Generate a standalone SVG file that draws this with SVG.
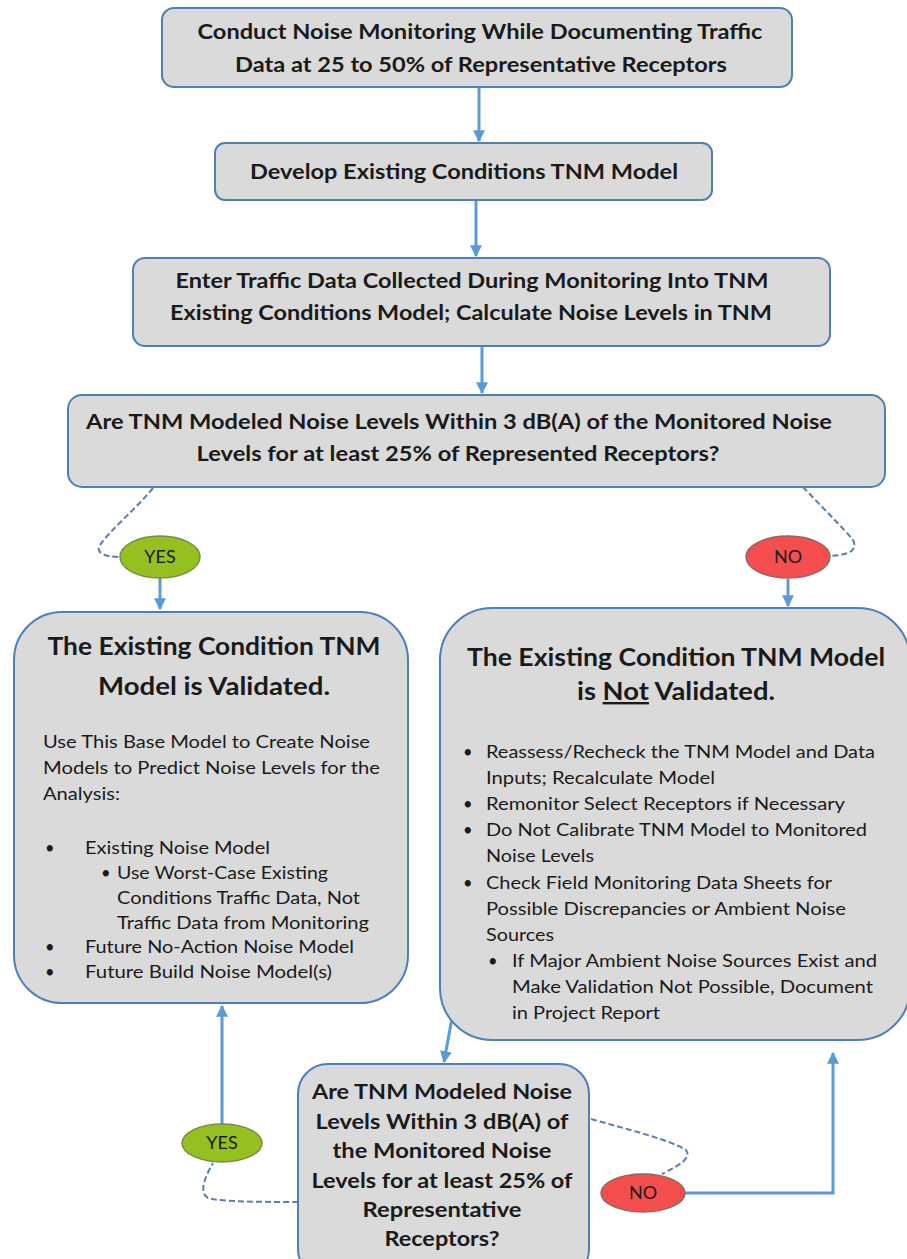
<svg xmlns="http://www.w3.org/2000/svg" width="907" height="1259" viewBox="0 0 907 1259">
<style>
.box{fill:#dadada;stroke:#4f7fb8;stroke-width:2}
.t{font-family:Lato,"Open Sans","Liberation Sans",sans-serif;fill:#1a1a1a}
.h{font-size:20px;font-weight:bold;text-anchor:middle}
.big{font-size:24px;font-weight:bold;text-anchor:middle}
.q{font-size:21px;font-weight:bold;text-anchor:middle}
.body{font-size:16.5px}
.arr{stroke:#5b9bd5;stroke-width:3;fill:none}
.dash{stroke:#5a80aa;stroke-width:2;fill:none;stroke-dasharray:6 3}
.yes{fill:#94c11f;stroke:#7a8a50;stroke-width:1.5}
.no{fill:#f44e4e;stroke:#8a6a60;stroke-width:1.5}
.lbl{font-family:Lato,"Open Sans","Liberation Sans",sans-serif;font-size:18px;text-anchor:middle;fill:#1a1a1a}
</style>
<defs>
<marker id="ah" viewBox="0 0 10 10" refX="9" refY="5" markerWidth="4" markerHeight="4" orient="auto" markerUnits="strokeWidth">
<path d="M0,0 L10,5 L0,10 z" fill="#5b9bd5"/>
</marker>
</defs>
<rect width="907" height="1259" fill="#ffffff"/>

<g id="connectors">
<line class="arr" x1="479" y1="88" x2="479" y2="141" marker-end="url(#ah)"/>
<line class="arr" x1="476" y1="201" x2="476" y2="256" marker-end="url(#ah)"/>
<line class="arr" x1="482" y1="346" x2="482" y2="393" marker-end="url(#ah)"/>
<path class="dash" d="M153,488 C135,510 110,530 100,545 C95,553 105,557 120,557"/>
<line class="arr" x1="160" y1="578" x2="160" y2="609" marker-end="url(#ah)"/>
<path class="dash" d="M803,487 C820,505 845,530 853,540 C858,550 850,555 830,556"/>
<line class="arr" x1="788" y1="579" x2="788" y2="606" marker-end="url(#ah)"/>
<line class="arr" x1="454" y1="1007" x2="444" y2="1062" marker-end="url(#ah)"/>
<line class="arr" x1="222" y1="1124" x2="222" y2="1006" marker-end="url(#ah)"/>
<path class="dash" d="M298,1202 C270,1202 220,1202 208,1198 C198,1192 206,1175 213,1163"/>
<polyline class="arr" points="685,1193 833,1193 833,1053" marker-end="url(#ah)"/>
<path class="dash" d="M591,1119 C630,1130 670,1140 686,1150 C692,1158 680,1165 662,1174"/>
</g>

<g id="n1">
<rect class="box" x="162" y="8" width="630" height="79" rx="12"/>
<text class="t h" x="480" y="39" textLength="565" lengthAdjust="spacingAndGlyphs">Conduct Noise Monitoring While Documenting Traffic</text>
<text class="t h" x="481" y="72" textLength="492" lengthAdjust="spacingAndGlyphs">Data at 25 to 50% of Representative Receptors</text>
</g>

<g id="n2">
<rect class="box" x="215" y="143" width="497" height="57" rx="10"/>
<text class="t h" x="464" y="179" textLength="428" lengthAdjust="spacingAndGlyphs">Develop Existing Conditions TNM Model</text>
</g>

<g id="n3">
<rect class="box" x="133" y="258" width="697" height="88" rx="12"/>
<text class="t h" x="472" y="288" textLength="593" lengthAdjust="spacingAndGlyphs">Enter Traffic Data Collected During Monitoring Into TNM</text>
<text class="t h" x="471" y="320" textLength="602" lengthAdjust="spacingAndGlyphs">Existing Conditions Model; Calculate Noise Levels in TNM</text>
</g>

<g id="n4">
<rect class="box" x="68" y="395" width="817" height="92" rx="14"/>
<text class="t h" x="459" y="429" textLength="746" lengthAdjust="spacingAndGlyphs">Are TNM Modeled Noise Levels Within 3 dB(A) of the Monitored Noise</text>
<text class="t h" x="458" y="461" textLength="523" lengthAdjust="spacingAndGlyphs">Levels for at least 25% of Represented Receptors?</text>
</g>

<g id="yes1">
<ellipse class="yes" cx="160" cy="557" rx="40" ry="21"/>
<text class="lbl" x="160" y="563">YES</text>
</g>

<g id="no1">
<ellipse class="no" cx="788" cy="557" rx="42" ry="21"/>
<text class="lbl" x="788" y="563">NO</text>
</g>

<g id="n5">
<rect class="box" x="14" y="612" width="394" height="391" rx="48"/>
<text class="t big" x="214" y="655" textLength="333" lengthAdjust="spacingAndGlyphs">The Existing Condition TNM</text>
<text class="t big" x="214" y="695" textLength="232" lengthAdjust="spacingAndGlyphs">Model is Validated.</text>
<text class="t body" x="43" y="748" textLength="327" lengthAdjust="spacingAndGlyphs">Use This Base Model to Create Noise</text>
<text class="t body" x="43" y="774" textLength="337" lengthAdjust="spacingAndGlyphs">Models to Predict Noise Levels for the</text>
<text class="t body" x="43" y="800" textLength="77" lengthAdjust="spacingAndGlyphs">Analysis:</text>
<text class="t body" x="45" y="854">•</text>
<text class="t body" x="85" y="854" textLength="185" lengthAdjust="spacingAndGlyphs">Existing Noise Model</text>
<text class="t body" x="101" y="879">•</text>
<text class="t body" x="117" y="879" textLength="211" lengthAdjust="spacingAndGlyphs">Use Worst-Case Existing</text>
<text class="t body" x="117" y="904" textLength="243" lengthAdjust="spacingAndGlyphs">Conditions Traffic Data, Not</text>
<text class="t body" x="117" y="929" textLength="252" lengthAdjust="spacingAndGlyphs">Traffic Data from Monitoring</text>
<text class="t body" x="45" y="953">•</text>
<text class="t body" x="85" y="953" textLength="269" lengthAdjust="spacingAndGlyphs">Future No-Action Noise Model</text>
<text class="t body" x="45" y="978">•</text>
<text class="t body" x="85" y="978" textLength="247" lengthAdjust="spacingAndGlyphs">Future Build Noise Model(s)</text>
</g>

<g id="n6">
<rect class="box" x="440" y="608" width="470" height="432" rx="52"/>
<text class="t big" x="676" y="666" textLength="418" lengthAdjust="spacingAndGlyphs">The Existing Condition TNM Model</text>
<text class="t big" x="676" y="700" textLength="198" lengthAdjust="spacingAndGlyphs">is <tspan text-decoration="underline">Not</tspan> Validated.</text>
<text class="t body" x="463" y="758">•</text>
<text class="t body" x="486" y="758" textLength="389" lengthAdjust="spacingAndGlyphs">Reassess/Recheck the TNM Model and Data</text>
<text class="t body" x="486" y="784" textLength="229" lengthAdjust="spacingAndGlyphs">Inputs; Recalculate Model</text>
<text class="t body" x="463" y="810">•</text>
<text class="t body" x="486" y="810" textLength="359" lengthAdjust="spacingAndGlyphs">Remonitor Select Receptors if Necessary</text>
<text class="t body" x="463" y="836">•</text>
<text class="t body" x="486" y="836" textLength="381" lengthAdjust="spacingAndGlyphs">Do Not Calibrate TNM Model to Monitored</text>
<text class="t body" x="486" y="862" textLength="108" lengthAdjust="spacingAndGlyphs">Noise Levels</text>
<text class="t body" x="463" y="889">•</text>
<text class="t body" x="486" y="889" textLength="346" lengthAdjust="spacingAndGlyphs">Check Field Monitoring Data Sheets for</text>
<text class="t body" x="486" y="915" textLength="360" lengthAdjust="spacingAndGlyphs">Possible Discrepancies or Ambient Noise</text>
<text class="t body" x="486" y="941" textLength="68" lengthAdjust="spacingAndGlyphs">Sources</text>
<text class="t body" x="488" y="967">•</text>
<text class="t body" x="512" y="967" textLength="365" lengthAdjust="spacingAndGlyphs">If Major Ambient Noise Sources Exist and</text>
<text class="t body" x="512" y="993" textLength="361" lengthAdjust="spacingAndGlyphs">Make Validation Not Possible, Document</text>
<text class="t body" x="512" y="1019" textLength="148" lengthAdjust="spacingAndGlyphs">in Project Report</text>
</g>

<g id="n7">
<rect class="box" x="298" y="1064" width="291" height="215" rx="30"/>
<text class="t q" x="442" y="1099" textLength="260" lengthAdjust="spacingAndGlyphs">Are TNM Modeled Noise</text>
<text class="t q" x="442" y="1129" textLength="253" lengthAdjust="spacingAndGlyphs">Levels Within 3 dB(A) of</text>
<text class="t q" x="442" y="1158" textLength="219" lengthAdjust="spacingAndGlyphs">the Monitored Noise</text>
<text class="t q" x="442" y="1188" textLength="261" lengthAdjust="spacingAndGlyphs">Levels for at least 25% of</text>
<text class="t q" x="442" y="1217" textLength="159" lengthAdjust="spacingAndGlyphs">Representative</text>
<text class="t q" x="442" y="1246" textLength="115" lengthAdjust="spacingAndGlyphs">Receptors?</text>
</g>

<g id="yes2">
<ellipse class="yes" cx="222" cy="1143" rx="40" ry="19"/>
<text class="lbl" x="222" y="1149">YES</text>
</g>

<g id="no2">
<ellipse class="no" cx="643" cy="1193" rx="42" ry="19"/>
<text class="lbl" x="643" y="1199">NO</text>
</g>
</svg>
